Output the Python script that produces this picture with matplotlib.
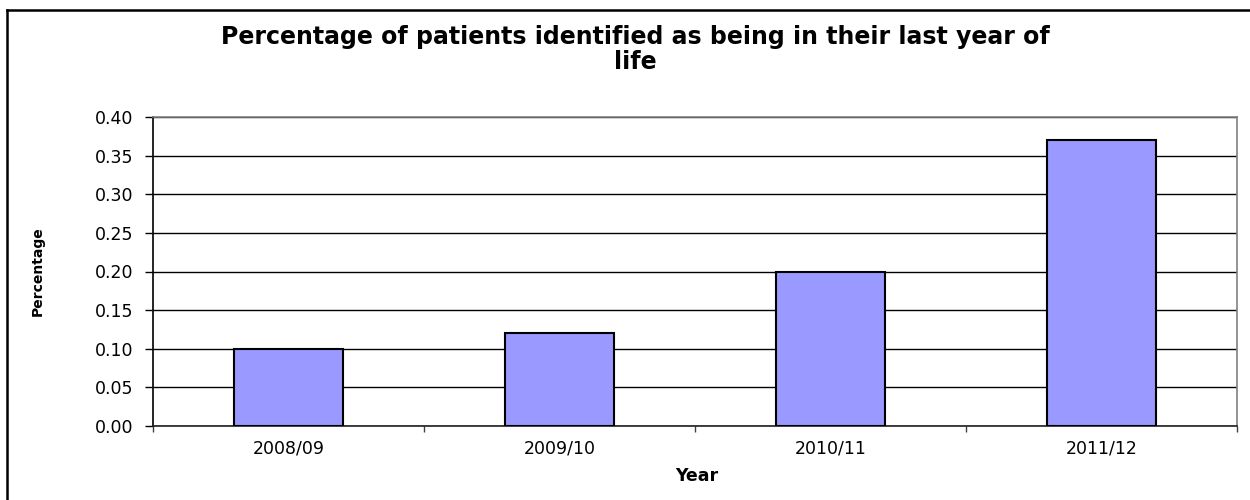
import matplotlib

matplotlib.use("Agg")
import matplotlib.pyplot as plt
from matplotlib.lines import Line2D

# chart values
years = ["2008/09", "2009/10", "2010/11", "2011/12"]
share = [0.10, 0.12, 0.20, 0.37]
y_ticks = [0.00, 0.05, 0.10, 0.15, 0.20, 0.25, 0.30, 0.35, 0.40]

title = "Percentage of patients identified as being in their last year of\nlife"

plt.rcParams["font.family"] = ["DejaVu Sans"]

fig = plt.figure(figsize=(12.5, 5), dpi=100)
ax = fig.add_axes([153 / 1250, 1 - 426 / 500, 1084 / 1250, 309 / 500])

x = list(range(len(years)))
ax.bar(x, share, width=0.4, color="#9999FF", edgecolor="black", linewidth=1.5, zorder=3)

ax.set_xlim(-0.5, len(years) - 0.5)
ax.set_ylim(0, 0.40)
ax.set_yticks(y_ticks)
ax.set_yticklabels([f"{v:.2f}" for v in y_ticks], fontsize=12.5)
ax.yaxis.grid(True, color="black", linewidth=1, zorder=1)
ax.tick_params(axis="y", direction="out", length=6, width=1, pad=8, color="black")

ax.set_xticks(x)
ax.set_xticklabels(years, fontsize=12.5)
ax.set_xticks([i - 0.5 for i in range(len(years) + 1)], minor=True)
ax.tick_params(axis="x", which="major", length=0, pad=10)
ax.tick_params(axis="x", which="minor", direction="out", length=4, width=1, color="#404040")

for side in ("top", "right"):
    ax.spines[side].set_color("#808080")
ax.spines["left"].set_color("black")
ax.spines["bottom"].set_color("#202020")
for sp in ax.spines.values():
    sp.set_linewidth(1.2)

ax.set_ylabel("Percentage", fontsize=10, fontweight="bold")
ax.yaxis.set_label_coords((45 - 153) / 1084, 0.5)
ax.set_xlabel("Year", fontsize=12.5, fontweight="bold")
ax.xaxis.set_label_coords((697 - 153) / 1084, (426 - 467) / 309)

fig.text(635 / 1250, 1 - 25 / 500, title, ha="center", va="top",
         fontsize=17, fontweight="bold", linespacing=1.05)

# chart-area border (clipped at right and bottom in the reference)
fig.add_artist(Line2D([7 / 1250, 7 / 1250], [0, 1 - 10 / 500], transform=fig.transFigure,
                      color="black", linewidth=1.8))
fig.add_artist(Line2D([7 / 1250, 1], [1 - 10 / 500, 1 - 10 / 500], transform=fig.transFigure,
                      color="black", linewidth=1.8))

fig.savefig("out.png", dpi=100)
plt.close(fig)
